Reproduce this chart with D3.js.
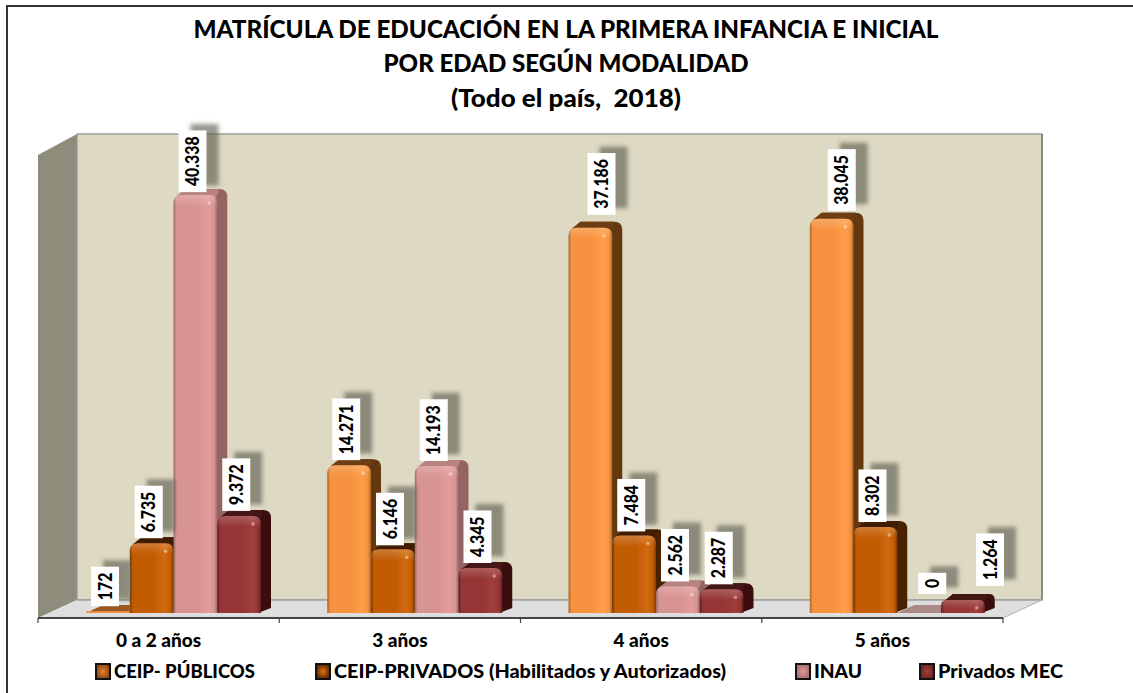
<!DOCTYPE html>
<html><head><meta charset="utf-8">
<script src="https://cdn.jsdelivr.net/npm/d3@7"></script>
<style>html,body{margin:0;padding:0;background:#fff}svg{display:block}text{font-family:Lato,"Noto Sans",sans-serif;font-weight:900;fill:#000;white-space:pre}</style>
</head><body><div id="c"></div>
<script>
const titleLines = ["MATRÍCULA DE EDUCACIÓN EN LA PRIMERA INFANCIA E INICIAL","POR EDAD SEGÚN MODALIDAD","(Todo el país,  2018)"];
const categories = ["0 a 2 años","3 años","4 años","5 años"];
const seriesNames = ["CEIP- PÚBLICOS","CEIP-PRIVADOS (Habilitados y Autorizados)","INAU","Privados MEC"];
const ceipPublicos = [172,14271,37186,38045];
const ceipPrivados = [6735,6146,7484,8302];
const inau = [40338,14193,2562,0];
const privadosMec = [9372,4345,2287,1264];
const seriesValues = [ceipPublicos,ceipPrivados,inau,privadosMec];
const tickFormat = v => d3.format(",")(v).replace(/,/g,".");

// hand-placed data labels, as in the original: [dx from bar, gap above bar]
const labelPlace = [
 [[0,5],[0,5],[0,3],[0,5]],
 [[0,5],[0,4],[0,5],[0,5]],
 [[14,13],[0,4],[0,5],[0,5]],
 [[13,8],[0,5],[16,19],[30,14]]
];
const palette = [
 {base:"#F79240",edge:"#A9662A",light:"#FF9E48",side:"#65380F",top:"#6E3E12",swatch:"#E07828",dark:"#8A4A18"},
 {base:"#C25C05",edge:"#7C3C06",light:"#D26A0C",side:"#4A2402",top:"#3F1E02",swatch:"#D86A10",dark:"#5A2A04"},
 {base:"#D89492",edge:"#9A6C6A",light:"#E39C9B",side:"#966463",top:"#B88281",swatch:"#D89492",dark:"#A87070"},
 {base:"#953634",edge:"#5E1F1E",light:"#A03E3C",side:"#3A1010",top:"#451414",swatch:"#A03E3C",dark:"#6A2322"}
];
const W=1133,H=693;
const wall={x0:77,x1:1042,top:134,bottom:600}, floorF={x0:38,x1:1003,y:618};
const base=613, depthX=10, depthY=6, flatX=17, flatY=8;

const svg=d3.select("#c").append("svg").attr("width",W).attr("height",H);
const defs=svg.append("defs");
palette.forEach((p,i)=>{
  const g=defs.append("linearGradient").attr("id","f"+i);
  [[0,p.edge],[.07,p.base],[.55,p.base],[.8,p.light],[.93,p.base],[1,p.edge]].forEach(s=>g.append("stop").attr("offset",s[0]).attr("stop-color",s[1]));
  const r=defs.append("radialGradient").attr("id","s"+i);
  r.append("stop").attr("offset",.1).attr("stop-color",p.swatch);
  r.append("stop").attr("offset",1).attr("stop-color",p.dark);
});
const tg=defs.append("linearGradient").attr("id","bevel").attr("x1",0).attr("x2",0).attr("y1",0).attr("y2",1);
tg.append("stop").attr("offset",0).attr("stop-color","#fff").attr("stop-opacity",.2);
tg.append("stop").attr("offset",1).attr("stop-color","#fff").attr("stop-opacity",0);
const blur=defs.append("filter").attr("id","sh").attr("x","-30%").attr("y","-30%").attr("width","160%").attr("height","160%");
blur.append("feGaussianBlur").attr("stdDeviation",2);
const blurS=defs.append("filter").attr("id","soft").attr("x","-20%").attr("y","-20%").attr("width","140%").attr("height","140%");
blurS.append("feGaussianBlur").attr("stdDeviation",.5);

// frame
svg.append("path").attr("d","M7,693V6H1133").attr("fill","none").attr("stroke","#333").attr("stroke-width",2);

// title
svg.selectAll("text.t").data(titleLines).join("text").attr("class","t")
  .attr("x",566).attr("y",(d,i)=>[38,72,107][i]).attr("text-anchor","middle").attr("font-size",24.2)
  .attr("textLength",(d,i)=>[745,365,230][i]).attr("lengthAdjust","spacingAndGlyphs").text(d=>d);

// walls
const line=d3.line();
svg.append("path").attr("d",line([[floorF.x0,155],[wall.x0,wall.top],[wall.x0,wall.bottom],[floorF.x0,floorF.y]])+"Z").attr("fill","#8E8D7B");
svg.append("rect").attr("x",wall.x0).attr("y",wall.top).attr("width",wall.x1-wall.x0).attr("height",wall.bottom-wall.top).attr("fill","#DED9C3").attr("stroke","#9A9A9A").attr("stroke-width",1.4);
svg.append("path").attr("d",line([[floorF.x0,floorF.y],[wall.x0,wall.bottom],[wall.x1,wall.bottom],[floorF.x1,floorF.y]])+"Z").attr("fill","#DEDEDE");
svg.append("path").attr("d",`M${wall.x1},${wall.top}V${wall.bottom}`).attr("stroke","#777").attr("stroke-width",1.4);
svg.append("path").attr("d",`M${wall.x0},${wall.bottom}L${wall.x1},${wall.bottom}`).attr("stroke","#A0A0A0").attr("stroke-width",1.4);
svg.append("path").attr("d",`M${wall.x1},${wall.bottom}L${floorF.x1},${floorF.y}`).attr("stroke","#B0B0B0");

// scales
const y=d3.scaleLinear().domain([0,45000]).range([base,base-466.2]);
const x0=d3.scaleBand().domain(categories).range([floorF.x0,floorF.x1]);
const x1=d3.scaleBand().domain(d3.range(4)).range([48,48+175]);
const bw=x1.bandwidth();

const round=(x,yt,w,h,r)=>`M${x},${yt+h}V${yt+r}Q${x},${yt} ${x+r},${yt}H${x+w-r}Q${x+w},${yt} ${x+w},${yt+r}V${yt+h}Z`;

const bars=svg.append("g");
categories.forEach((c,ci)=>{
  seriesValues.forEach((vals,si)=>{
    const v=vals[ci], p=palette[si], x=x0(c)+x1(si), yt=y(v), h=base-yt;
    const g=bars.append("g").attr("filter","url(#soft)");
    if(h<4){
      g.append("path").attr("d",line([[x,base],[x+flatX,base-flatY],[x+bw,base-flatY],[x+bw,base]])+"Z")
        .attr("fill",si===2?p.side:"#9A5820").attr("fill-opacity",si===2?.7:1);
      if(h>0) g.append("rect").attr("x",x).attr("y",yt).attr("width",bw).attr("height",h).attr("fill",p.base);
      return;
    }
    const r=Math.min(8,h/2.2), rx=x+bw+depthX, ry=yt-depthY;
    // side face, chamfered down to the front foot
    g.append("path").attr("d",`M${x+bw-3},${base}L${rx},${base-5}V${ry+r}Q${rx},${ry} ${rx-r},${ry}H${x+depthX+2}L${x+3},${yt+2}Z`).attr("fill",p.side);
    // top face
    g.append("path").attr("d",`M${x+3},${yt+1}L${x+depthX+2},${ry}H${rx-r}L${x+bw-1},${yt+2}Z`).attr("fill",p.top);
    // front
    g.append("path").attr("d",round(x,yt,bw,h,r)).attr("fill",`url(#f${si})`);
    g.append("path").attr("d",round(x,yt,bw,Math.min(r+3,h),r)).attr("fill","url(#bevel)");
    g.append("circle").attr("cx",x+bw-8).attr("cy",yt+8).attr("r",1.8).attr("fill","#fff").attr("fill-opacity",.4);
  });
});

// axis
const axisG=svg.append("g");
axisG.append("path").attr("d",`M${floorF.x0},${floorF.y}H${floorF.x1}`).attr("stroke","#444").attr("stroke-width",2);
x0.domain().concat([null]).forEach((c,i)=>{
  const tx=i<4?x0(c):floorF.x1;
  axisG.append("path").attr("d",`M${tx},${floorF.y}v5`).attr("stroke","#444").attr("stroke-width",1.2);
});
axisG.selectAll("text").data(categories).join("text")
  .attr("x",d=>x0(d)+x0.bandwidth()/2).attr("y",647).attr("text-anchor","middle").attr("font-size",19).text(d=>d);

// labels
const lab=svg.append("g");
categories.forEach((c,ci)=>{
  seriesValues.forEach((vals,si)=>{
    const v=vals[ci], x=x0(c)+x1(si), pl=labelPlace[ci][si];
    const cx=x+19+pl[0], bottom=y(v)-pl[1], g=lab.append("g");
    const txt=tickFormat(v);
    const s=g.append("rect").attr("fill","#55554a").attr("fill-opacity",.6).attr("filter","url(#sh)");
    const b=g.append("rect").attr("fill","#fff");
    const t=g.append("text").attr("font-size",18).attr("text-anchor","start")
      .attr("transform",`translate(${cx+6.5},${bottom-6}) rotate(-90)`).text(txt);
    const len=t.node().getComputedTextLength()*0.88;
    t.attr("textLength",len).attr("lengthAdjust","spacingAndGlyphs");
    const bh=len+12;
    b.attr("x",cx-14).attr("y",bottom-bh).attr("width",28).attr("height",bh);
    s.attr("x",cx-14+12).attr("y",bottom-bh-6.5).attr("width",28).attr("height",bh);
  });
});

// legend
const legendX=[95,315,795,919], legendTextW=[141,392,48,125];
const leg=svg.append("g");
seriesNames.forEach((n,i)=>{
  const lx=legendX[i];
  leg.append("rect").attr("x",lx+1).attr("y",664).attr("width",14).attr("height",15).attr("fill",`url(#s${i})`).attr("stroke","#111").attr("stroke-width",2);
  leg.append("text").attr("x",lx+19).attr("y",678).attr("font-size",18.5).attr("textLength",legendTextW[i]).attr("lengthAdjust","spacingAndGlyphs").text(n);
});
</script></body></html>
